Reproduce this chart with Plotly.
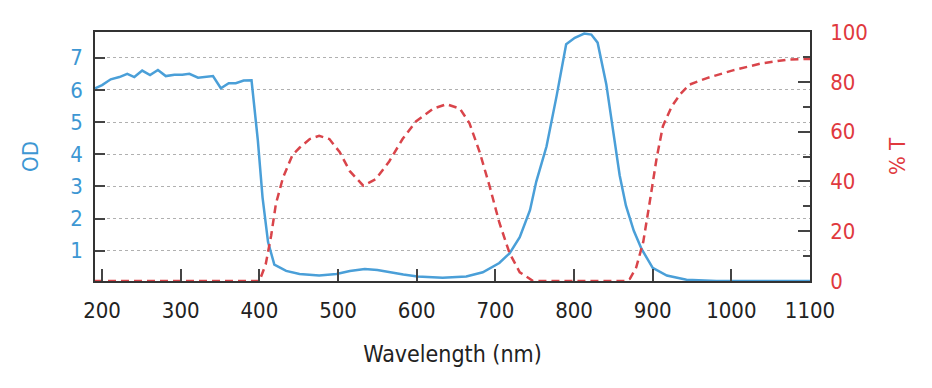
import plotly.graph_objects as go

# OD curve (left axis)
od_wavelength = [191, 200, 211, 222, 232, 241, 251, 261, 271, 281, 292, 302, 311, 322, 341,
                 351, 361, 370, 380, 390, 398, 404, 411, 419, 434, 451, 476, 498, 515, 534,
                 550, 565, 583, 601, 633, 663, 684, 705, 718, 731, 744, 752, 765, 778, 790,
                 801, 813, 822, 830, 841, 850, 858, 866, 876, 886, 900, 918, 943, 981, 1100]
od_values = [6.05, 6.15, 6.33, 6.40, 6.50, 6.40, 6.60, 6.46, 6.62, 6.43, 6.47, 6.47, 6.50, 6.38, 6.43,
             6.05, 6.21, 6.21, 6.29, 6.30, 4.44, 2.66, 1.27, 0.57, 0.375, 0.28, 0.23, 0.28, 0.37, 0.43,
             0.40, 0.33, 0.26, 0.20, 0.16, 0.20, 0.33, 0.62, 0.92, 1.42, 2.26, 3.15, 4.24, 5.83, 7.42,
             7.62, 7.75, 7.72, 7.47, 6.18, 4.64, 3.35, 2.40, 1.62, 1.05, 0.47, 0.23, 0.10, 0.06, 0.06]

# %T curve (right axis)
t_wavelength = [191, 400, 408, 415, 421, 430, 442, 451, 464, 476, 489, 502, 515, 532, 548,
                565, 582, 599, 621, 638, 655, 667, 680, 693, 705, 718, 731, 748, 865, 871,
                879, 888, 896, 905, 913, 924, 935, 947, 969, 1003, 1037, 1071, 1100]
t_values = [0, 0, 6.7, 18.3, 31, 41.5, 50.6, 53.5, 57, 58.3, 57, 51.8, 44.1, 38.3, 40.9,
            48, 57, 64.1, 69.2, 71, 69.2, 63.4, 51.8, 37.7, 23.5, 11.2, 3.5, 0, 0, 0.9,
            5.4, 15.7, 31.2, 49.3, 62.2, 70, 75, 78.9, 81.5, 84.7, 87.3, 88.9, 89.2]

x_ticks = [200, 300, 400, 500, 600, 700, 800, 900, 1000, 1100]
od_ticks = [1, 2, 3, 4, 5, 6, 7]
t_ticks = [0, 20, 40, 60, 80, 100]

BLUE = "#3d97d3"
RED = "#e0393e"
FONT = "DejaVu Sans Condensed, Tahoma, Liberation Sans, sans-serif"

fig = go.Figure()
fig.add_trace(go.Scatter(x=od_wavelength, y=od_values, mode="lines",
                         line=dict(color="#4a9fd8", width=2.5), yaxis="y", showlegend=False))
fig.add_trace(go.Scatter(x=t_wavelength, y=t_values, mode="lines",
                         line=dict(color="#d9444a", width=2.5, dash="8px,5px"),
                         yaxis="y2", showlegend=False))

fig.update_layout(
    width=932, height=388,
    margin=dict(l=87, r=130, t=14, b=115),
    paper_bgcolor="white", plot_bgcolor="white",
    font=dict(family=FONT, size=22, color="#222"),
    xaxis=dict(
        range=[191, 1100], tickvals=x_ticks, ticks="inside", ticklen=12, tickwidth=1.5,
        tickcolor="#444", showline=True, linecolor="#333", linewidth=1.5, mirror=True,
        showgrid=False, zeroline=False, ticklabelstandoff=9,
        tickfont=dict(size=22, color="#222"),
        title=dict(text="Wavelength (nm)", font=dict(size=23, color="#222"), standoff=24),
    ),
    yaxis=dict(
        range=[0.06, 7.8], tickvals=od_ticks, ticks="inside", ticklen=10, tickwidth=1.5,
        tickcolor="#444", showline=True, linecolor="#333", linewidth=1.5,
        showgrid=True, gridcolor="#b0b0b0", griddash="dot", gridwidth=1, zeroline=False,
        ticklabelstandoff=6,
        tickfont=dict(size=22, color=BLUE),
        title=dict(text="OD", font=dict(size=22, color=BLUE), standoff=26),
    ),
    yaxis2=dict(
        range=[0, 100], tickvals=t_ticks, overlaying="y", side="right",
        ticks="inside", ticklen=12, tickwidth=1.5, tickcolor="#444",
        minor=dict(dtick=10, ticks="inside", ticklen=7, tickwidth=1.5, tickcolor="#444"),
        showline=True, linecolor="#333", linewidth=1.5, showgrid=False, zeroline=False,
        tickfont=dict(size=22, color=RED), ticklabelstandoff=14,
        title=dict(text="% T", font=dict(size=22, color=RED), standoff=23),
    ),
)

fig.write_html("out.html")
